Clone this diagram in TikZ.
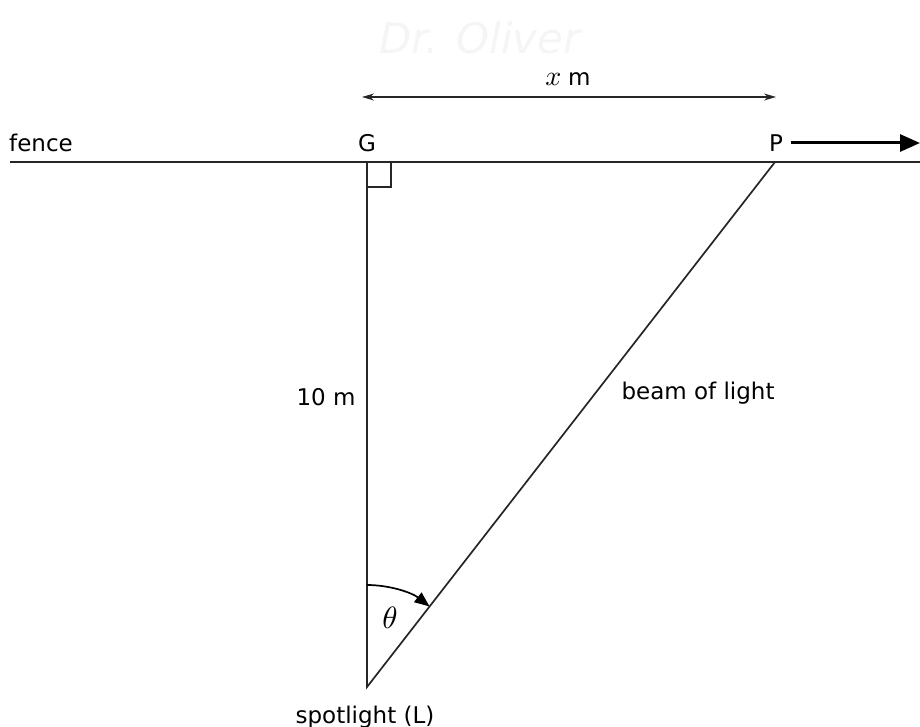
\documentclass[tikz,border=0pt]{standalone}
\usepackage{fontspec}
\setmainfont{DejaVu Sans}
\usetikzlibrary{arrows.meta,calc}
\begin{document}
\begin{tikzpicture}[x=1pt,y=-1pt,
  lbl/.style={font=\fontsize{23}{26}\selectfont, inner sep=0pt},
  mathlbl/.style={font=\fontsize{10}{12}\selectfont, inner sep=0pt, scale=2.8},
  ln/.style={line width=1.7pt, draw=black!85},
  dimarrow/.style={line width=1.1pt, draw=black!85, {Stealth[length=12pt,width=7pt]}-{Stealth[length=12pt,width=7pt]}},
  movearrow/.style={line width=3pt, -{Triangle[length=20pt,width=17pt]}}]
\useasboundingbox (0,0) rectangle (920,727);
% watermark
\node[font=\fontsize{42}{46}\itshape\selectfont, text=black!4, inner sep=0pt] (wm) at (480,38) {Dr. Oliver};
% points
\coordinate (F0) at (10,162);
\coordinate (F1) at (920,162);
\coordinate (G) at (367,162);
\coordinate (P) at (775,162);
\coordinate (L) at (367,687);
% fence and triangle
\draw[ln] (F0) -- (F1);
\draw[ln] (G) -- (L) -- (P);
\draw[ln] (G) rectangle ($(G)+(24,25)$);
% labels
\node[lbl] (fence) at (41,143) {fence};
\node[lbl] (Glab) at (367,143) {G};
\node[lbl] (Plab) at (776,143) {P};
\node[lbl] (ten) at (326,397) {10 m};
\node[lbl] (beam) at (698,393) {beam of light};
\node[lbl] (spot) at (365,717) {spotlight (L)};
\node[lbl, anchor=base west] (xm) at (568,86) {m};
\node[mathlbl, anchor=base east] (xv) at ([xshift=-6pt]xm.base west) {$x$};
\node[mathlbl, scale=1.1] (th) at (390,618) {$\theta$};
% dimension arrow
\coordinate (D0) at (362,97);
\coordinate (D1) at (776,97);
\draw[dimarrow] (D0) -- (D1);
% moving arrow
\coordinate (M1) at (920,143);
\draw[movearrow] ($(Plab.east)+(8,0)$) -- (M1);
% angle arc
\draw[line width=1.7pt, -{Triangle[length=15pt,width=12pt]}] ($(L)+(0,-102)$) arc[start angle=-90, end angle=-52.15, radius=102];
\end{tikzpicture}
\end{document}
